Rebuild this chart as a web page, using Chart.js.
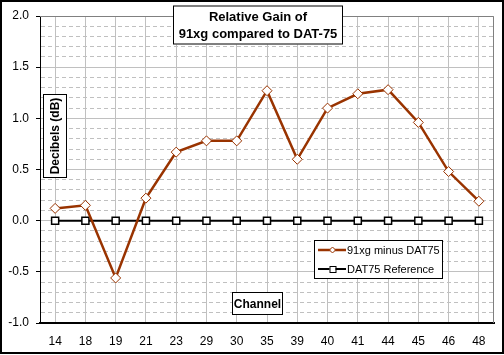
<!DOCTYPE html>
<html>
<head>
<meta charset="utf-8">
<script src="https://cdn.jsdelivr.net/npm/chart.js@4/dist/chart.umd.min.js"></script>
<style>
html,body{margin:0;padding:0;background:#fff;}
#wrap{width:504px;height:355px;}
</style>
</head>
<body>
<div id="wrap"><canvas id="c" width="504" height="355"></canvas></div>
<script>
const channels = ['14','18','19','21','23','29','30','35','39','40','41','44','45','46','48'];
const gainDiff = [0.12,0.15,-0.56,0.22,0.67,0.78,0.78,1.27,0.60,1.10,1.24,1.28,0.96,0.48,0.19];
const reference = [0,0,0,0,0,0,0,0,0,0,0,0,0,0,0];
const seriesNames = ['91xg minus DAT75','DAT75 Reference'];
const titleLines = ['Relative Gain of','91xg compared to DAT-75'];
const yTitle = 'Decibels (dB)';
const xTitle = 'Channel';

const FONT = '"Liberation Sans", Arial, sans-serif';
const BROWN = '#993300';

function isMajor(v){ return Math.abs(Math.round(v*10)) % 5 === 0; }

function textBox(ctx, lines, cx, cy, w, h, lineH, rotate, size){
  ctx.save();
  ctx.translate(cx, cy);
  if (rotate) ctx.rotate(-Math.PI/2);
  ctx.fillStyle = '#fff';
  ctx.fillRect(-w/2, -h/2, w, h);
  ctx.strokeStyle = '#000';
  ctx.lineWidth = 1;
  ctx.strokeRect(-w/2+0.5, -h/2+0.5, w-1, h-1);
  ctx.fillStyle = '#000';
  ctx.font = 'bold ' + size + 'px ' + FONT;
  ctx.textAlign = 'center';
  ctx.textBaseline = 'middle';
  const n = lines.length;
  lines.forEach((l,i)=>{
    ctx.fillText(l, 0, (i-(n-1)/2)*lineH + 1);
  });
  ctx.restore();
}

const decor = {
  id:'decor',
  beforeDraw(chart){
    const ctx = chart.ctx;
    ctx.save();
    ctx.fillStyle = '#fff';
    ctx.fillRect(0,0,chart.width,chart.height);
    ctx.restore();
  },
  beforeDatasetsDraw(chart){
    const ctx = chart.ctx, a = chart.chartArea;
    ctx.save();
    ctx.strokeStyle = '#808080';
    ctx.lineWidth = 1;
    ctx.beginPath();
    ctx.moveTo(a.left, a.top+0.5);
    ctx.lineTo(a.right-0.5, a.top+0.5);
    ctx.lineTo(a.right-0.5, a.bottom);
    ctx.stroke();
    ctx.restore();
  },
  afterDraw(chart){
    const ctx = chart.ctx;
    ctx.save();
    ctx.strokeStyle = '#000';
    ctx.lineWidth = 2;
    ctx.strokeRect(1,1,502,352);
    ctx.restore();
    textBox(ctx, titleLines, 258, 25, 170, 39, 17, false, 13);
    textBox(ctx, [yTitle], 55, 136, 84, 24, 0, true, 12);
    textBox(ctx, [xTitle], 257.5, 303.5, 51, 23, 0, false, 12);
    ctx.save();
    const lx = 314, ly = 240, lw = 129, lh = 39;
    ctx.fillStyle = '#fff';
    ctx.fillRect(lx, ly, lw, lh);
    ctx.strokeStyle = '#000';
    ctx.lineWidth = 1;
    ctx.strokeRect(lx+0.5, ly+0.5, lw-1, lh-1);
    chart.data.datasets.forEach((ds,i)=>{
      const y = ly + 10 + i*19;
      ctx.strokeStyle = ds.borderColor;
      ctx.lineWidth = ds.borderWidth;
      ctx.beginPath();
      ctx.moveTo(lx+4, y);
      ctx.lineTo(lx+32, y);
      ctx.stroke();
      ctx.save();
      ctx.lineWidth = 1;
      ctx.strokeStyle = ds.pointBorderColor;
      ctx.fillStyle = '#fff';
      const mx = lx+18.5;
      if (ds.pointStyle === 'rectRot'){
        ctx.beginPath();
        ctx.moveTo(mx, y-3); ctx.lineTo(mx+3, y); ctx.lineTo(mx, y+3); ctx.lineTo(mx-3, y); ctx.closePath();
        ctx.fill(); ctx.stroke();
      } else {
        ctx.fillRect(mx-3, y-3, 6, 6);
        ctx.strokeRect(mx-3+0.5, y-3+0.5, 6, 6);
      }
      ctx.restore();
      ctx.fillStyle = '#000';
      ctx.font = '11px ' + FONT;
      ctx.textAlign = 'left';
      ctx.textBaseline = 'middle';
      ctx.fillText(ds.label, lx+33, y+1);
    });
    ctx.restore();
  }
};

new Chart(document.getElementById('c'), {
  type:'line',
  data:{
    labels: channels,
    datasets:[
      {
        label: seriesNames[0],
        data: gainDiff,
        borderColor: BROWN,
        borderWidth: 2.5,
        pointStyle: 'rectRot',
        pointRadius: 5,
        pointBorderColor: BROWN,
        pointBackgroundColor: '#fff',
        pointBorderWidth: 1,
        tension: 0,
        order: 1
      },
      {
        label: seriesNames[1],
        data: reference,
        borderColor: '#000',
        borderWidth: 2,
        pointStyle: 'rect',
        pointRadius: 5,
        pointBorderColor: '#000',
        pointBackgroundColor: '#fff',
        pointBorderWidth: 1.5,
        tension: 0,
        order: 2
      }
    ]
  },
  options:{
    responsive:false,
    animation:false,
    devicePixelRatio:1,
    layout:{padding:{top:16,right:10,left:0,bottom:0}},
    plugins:{legend:{display:false},title:{display:false},tooltip:{enabled:false}},
    scales:{
      x:{
        offset:true,
        grid:{color:'#c0c0c0',lineWidth:1,drawTicks:false,offset:false},
        border:{color:'#000',width:2},
        ticks:{color:'#000',font:{family:FONT,size:12},padding:11,maxRotation:0,autoSkip:false},
        afterFit(s){ s.height = 32; }
      },
      y:{
        min:-1, max:2,
        grid:{
          color:'#c0c0c0', lineWidth:1, drawTicks:true, tickLength:4,
          tickColor:(c)=> (c.tick && isMajor(c.tick.value)) ? '#000' : 'rgba(0,0,0,0)'
        },
        border:{
          color:'#000', width:1,
          dash:(c)=> (c.tick && !isMajor(c.tick.value)) ? [4,3] : []
        },
        ticks:{
          stepSize:0.1, maxTicksLimit:100, autoSkip:false, color:'#000', padding:7,
          font:{family:FONT,size:12},
          callback:(v)=> isMajor(v) ? (Math.round(v*10)/10).toFixed(1) : ''
        },
        afterFit(s){ s.width = 40; }
      }
    }
  },
  plugins:[decor]
});
</script>
</body>
</html>
